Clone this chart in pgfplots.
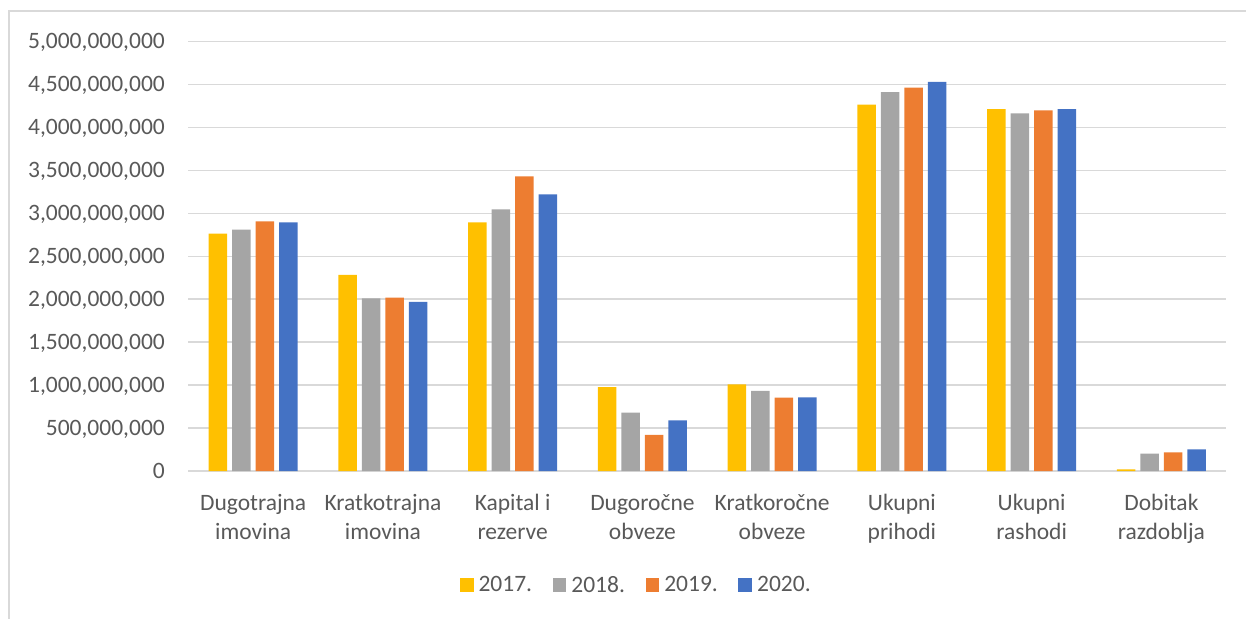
\documentclass[border=0pt]{standalone}
\usepackage{pgfplots}
\pgfplotsset{compat=1.18}
\usepackage{fontspec}
\setmainfont{Carlito}
\definecolor{c17}{HTML}{FFC000}
\definecolor{c18}{HTML}{A5A5A5}
\definecolor{c19}{HTML}{ED7D31}
\definecolor{c20}{HTML}{4472C4}
\definecolor{txt}{HTML}{595959}
\definecolor{grd}{HTML}{D9D9D9}
\newcommand{\fs}{\fontsize{23.5}{28.7}\selectfont}
\pgfplotsset{sqleg/.style={legend image code/.code={\fill[##1] (0pt,-6.85pt) rectangle (13.7pt,6.85pt); \path (16.7pt,0pt);}}}
\begin{document}
\begin{tikzpicture}
\useasboundingbox (-188.3pt,-147pt) rectangle (1057.7pt,471pt);
\draw[grd, line width=1.3pt] (-179.3pt,-160pt) -- (-179.3pt,460pt) -- (1070pt,460pt);
\begin{axis}[
  at={(0pt,0pt)}, anchor=south west,
  scale only axis, width=1038pt, height=429.7pt,
  xmin=-0.5, xmax=7.5, ymin=0, ymax=5e9,
  axis line style={draw=none},
  ymajorgrids, grid style={grd, line width=1.3pt},
  major tick length=0pt,
  ytick={0,5e8,1e9,1.5e9,2e9,2.5e9,3e9,3.5e9,4e9,4.5e9,5e9},
  scaled y ticks=false,
  yticklabel style={/pgf/number format/fixed, /pgf/number format/precision=0, /pgf/number format/1000 sep={,}, /pgf/number format/assume math mode=true, font=\fs, text=txt, anchor=base east, inner sep=0pt, xshift=-23.3pt, yshift=-7.45pt},
  xtick={0,1,2,3,4,5,6,7},
  xticklabels={{Dugotrajna\\imovina},{Kratkotrajna\\imovina},{Kapital i\\rezerve},{Dugoročne\\obveze},{Kratkoročne\\obveze},{Ukupni\\prihodi},{Ukupni\\rashodi},{Dobitak\\razdoblja}},
  xticklabel style={font=\fs, text=txt, align=center, anchor=base, inner sep=0pt, yshift=-68.3pt},
  legend columns=-1,
  legend style={draw=none, fill=none, font=\fs, text=txt, at={(0.4316,-0.2653)}, anchor=center, /tikz/every even column/.append style={column sep=18.6pt}},
  ybar, bar width=18.5pt,
]
\addplot[fill=c17, draw=none, bar shift=-35.25pt, sqleg] coordinates {(0,2762000000) (1,2281000000) (2,2894000000) (3,977000000) (4,1009000000) (5,4263000000) (6,4212000000) (7,20000000)};
\addplot[fill=c18, draw=none, bar shift=-11.75pt, sqleg] coordinates {(0,2809000000) (1,2010000000) (2,3045000000) (3,680000000) (4,931000000) (5,4410000000) (6,4162000000) (7,202000000)};
\addplot[fill=c19, draw=none, bar shift=11.75pt, sqleg] coordinates {(0,2905000000) (1,2018000000) (2,3429000000) (3,419000000) (4,854000000) (5,4461000000) (6,4197000000) (7,218000000)};
\addplot[fill=c20, draw=none, bar shift=35.25pt, sqleg] coordinates {(0,2894000000) (1,1967000000) (2,3220000000) (3,590000000) (4,858000000) (5,4527000000) (6,4212000000) (7,252000000)};
\legend{2017.,2018.,2019.,2020.}
\end{axis}
\end{tikzpicture}
\end{document}
